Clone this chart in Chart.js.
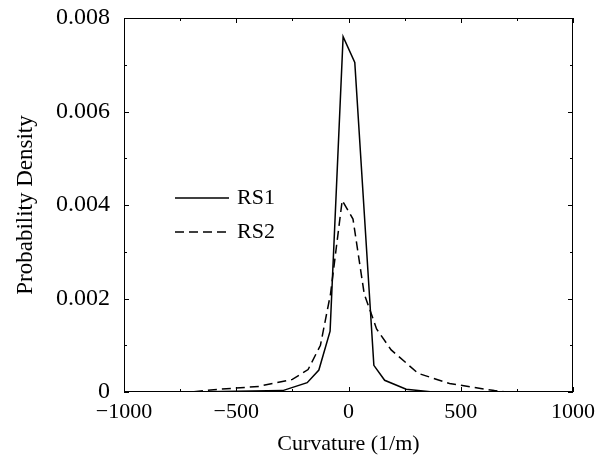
<!DOCTYPE html>
<html>
<head>
<meta charset="utf-8">
<script src="https://cdn.jsdelivr.net/npm/chart.js@4"></script>
<style>
  html, body { margin: 0; padding: 0; background: #fff; }
  #wrap { width: 606px; height: 459px; }
</style>
</head>
<body>
<div id="wrap"><canvas id="pdfChart" width="606" height="459"></canvas></div>
<script>
// curvature (1/m) and probability density
const rs1X = [-1000, -700, -293, -184, -132, -82, -24, 28, 113, 161, 257, 375, 700, 1000];
const rs1Y = [0, 0, 0.00003, 0.0002, 0.00047, 0.0013, 0.0076, 0.00705, 0.00057, 0.00025, 0.00006, 0, 0, 0];

const rs2X = [-1000, -700, -600, -400, -250, -180, -125, -80, -28, 20, 70, 125, 190, 310, 450, 650, 700, 1000];
const rs2Y = [0, 0, 0.00005, 0.00012, 0.00027, 0.00048, 0.001, 0.0021, 0.0041, 0.0037, 0.0021, 0.00135, 0.0009, 0.0004, 0.00018, 0.00003, 0, 0];

const seriesNames = ['RS1', 'RS2'];
const xTicks = [-1000, -500, 0, 500, 1000];
const yTicks = [0, 0.002, 0.004, 0.006, 0.008];

const FONT = "'Liberation Serif', 'Times New Roman', serif";

function toPoints(xs, ys) {
    return xs.map((x, i) => ({ x: x, y: ys[i] }));
}

// frame, small inward ticks and the legend inside the plot
const framePlugin = {
    id: 'frame',
    afterDraw(chart) {
        const { ctx, chartArea: a, scales } = chart;
        ctx.save();
        ctx.strokeStyle = '#000';
        ctx.lineWidth = 1;
        ctx.strokeRect(a.left + 0.5, a.top + 0.5, a.right - a.left - 1, a.bottom - a.top - 1);

        // minor ticks, inward on all four sides
        ctx.beginPath();
        for (let v = -1000; v <= 1000; v += 250) {
            const px = Math.round(scales.x.getPixelForValue(v)) + 0.5;
            const len = v % 500 === 0 ? 5 : 3;
            ctx.moveTo(px, a.bottom); ctx.lineTo(px, a.bottom - len);
            ctx.moveTo(px, a.top); ctx.lineTo(px, a.top + len);
        }
        for (let k = 0; k <= 8; k++) {
            const py = Math.round(scales.y.getPixelForValue(k * 0.001)) + 0.5;
            const len = k % 2 === 0 ? 5 : 3;
            ctx.moveTo(a.left, py); ctx.lineTo(a.left + len, py);
            ctx.moveTo(a.right, py); ctx.lineTo(a.right - len, py);
        }
        ctx.stroke();

        // legend
        ctx.font = '22px ' + FONT;
        ctx.fillStyle = '#000';
        ctx.textBaseline = 'middle';
        chart.data.datasets.forEach((ds, i) => {
            const y = a.top + 180 + i * 34;
            const x0 = a.left + 51;
            ctx.beginPath();
            ctx.lineWidth = ds.borderWidth;
            ctx.setLineDash(ds.borderDash || []);
            ctx.moveTo(x0, y);
            ctx.lineTo(x0 + 54, y);
            ctx.stroke();
            ctx.setLineDash([]);
            ctx.fillText(ds.label, x0 + 62, y);
        });
        ctx.restore();
    }
};

const ctx = document.getElementById('pdfChart').getContext('2d');
new Chart(ctx, {
    type: 'line',
    data: {
        datasets: [{
            label: seriesNames[0],
            data: toPoints(rs1X, rs1Y),
            borderColor: '#000',
            borderWidth: 1.5,
            pointRadius: 0,
            fill: false,
            tension: 0
        }, {
            label: seriesNames[1],
            data: toPoints(rs2X, rs2Y),
            borderColor: '#000',
            borderWidth: 1.5,
            borderDash: [9, 5],
            pointRadius: 0,
            fill: false,
            tension: 0
        }]
    },
    options: {
        responsive: false,
        animation: false,
        layout: { padding: { top: 18, right: 33, left: 0, bottom: 0 } },
        plugins: {
            legend: { display: false },
            tooltip: { enabled: false }
        },
        scales: {
            x: {
                type: 'linear',
                min: -1000,
                max: 1000,
                afterBuildTicks: (s) => { s.ticks = xTicks.map(v => ({ value: v })); },
                afterFit: (s) => { s.height = 67; s.paddingLeft = 0; s.paddingRight = 0; },
                grid: { display: false, drawTicks: false },
                border: { display: false },
                ticks: {
                    color: '#000',
                    font: { family: FONT, size: 22 },
                    padding: 7,
                    maxRotation: 0,
                    callback: (v) => v < 0 ? '\u2212' + Math.abs(v) : String(v)
                },
                title: {
                    display: true,
                    text: 'Curvature (1/m)',
                    color: '#000',
                    font: { family: FONT, size: 22 },
                    padding: { top: 0, bottom: 2 }
                }
            },
            y: {
                type: 'linear',
                min: 0,
                max: 0.008,
                afterBuildTicks: (s) => { s.ticks = yTicks.map(v => ({ value: v })); },
                afterFit: (s) => { s.width = 124; s.paddingTop = 0; s.paddingBottom = 0; },
                grid: { display: false, drawTicks: false },
                border: { display: false },
                ticks: {
                    color: '#000',
                    font: { family: FONT, size: 24 },
                    padding: 14,
                    callback: (v) => v === 0 ? '0' : v.toFixed(3)
                },
                title: {
                    display: true,
                    text: 'Probability Density',
                    color: '#000',
                    font: { family: FONT, size: 23 },
                    padding: { top: 12, bottom: 0 }
                }
            }
        }
    },
    plugins: [framePlugin]
});
</script>
</body>
</html>
